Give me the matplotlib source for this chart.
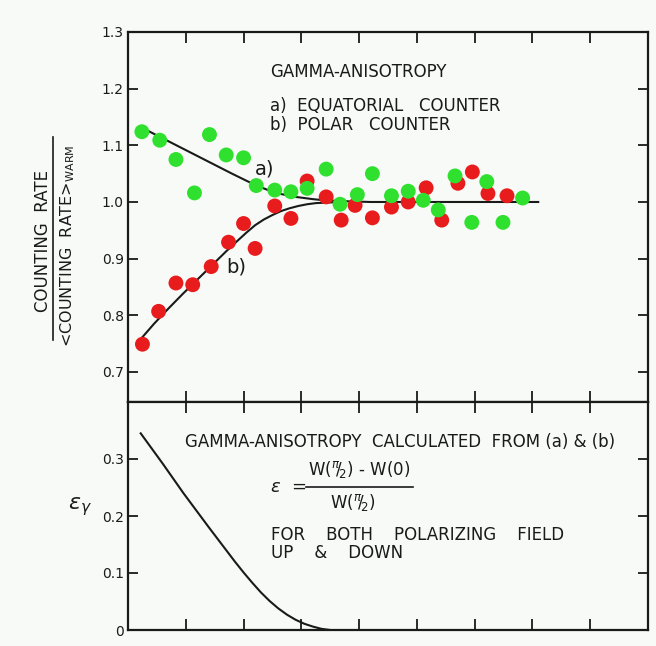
import numpy as np
import matplotlib
matplotlib.use("Agg")
import matplotlib.pyplot as plt
from matplotlib.lines import Line2D

# measured points (x in arbitrary tick units, y counting-rate ratio)
green_x = [0.24, 0.55, 0.83, 1.15, 1.41, 1.70, 2.00, 2.22, 2.54, 2.82, 3.10, 3.43,
           3.67, 3.97, 4.23, 4.56, 4.85, 5.11, 5.37, 5.66, 5.95, 6.21, 6.49, 6.83]
green_y = [1.124, 1.109, 1.075, 1.016, 1.119, 1.083, 1.078, 1.029, 1.021, 1.018, 1.024, 1.058,
           0.996, 1.013, 1.050, 1.011, 1.019, 1.003, 0.986, 1.046, 0.964, 1.036, 0.964, 1.007]

red_x = [0.25, 0.53, 0.83, 1.12, 1.44, 1.74, 2.00, 2.20, 2.54, 2.82, 3.10, 3.43,
         3.69, 3.93, 4.23, 4.56, 4.85, 5.16, 5.43, 5.71, 5.96, 6.23, 6.56]
red_y = [0.749, 0.807, 0.857, 0.854, 0.886, 0.929, 0.962, 0.918, 0.993, 0.971, 1.037, 1.009,
         0.968, 0.994, 0.972, 0.991, 1.000, 1.025, 0.968, 1.033, 1.053, 1.015, 1.011]

# fitted curves
curve_a_x = [0.30, 0.80, 1.30, 1.80, 2.10, 2.30, 2.45, 2.60, 2.75, 2.90, 3.05, 3.20,
             3.40, 3.60, 3.85, 4.20, 5.00, 6.00, 7.10]
curve_a_y = [1.128, 1.102, 1.076, 1.050, 1.035, 1.026, 1.020, 1.015, 1.012, 1.009, 1.007, 1.005,
             1.003, 1.002, 1.001, 1.000, 1.000, 1.000, 1.000]

curve_b_x = [0.22, 0.45, 0.70, 0.95, 1.20, 1.45, 1.70, 1.90, 2.05, 2.20, 2.35, 2.50,
             2.65, 2.80, 2.95, 3.10, 3.25, 3.45, 3.70]
curve_b_y = [0.758, 0.785, 0.812, 0.838, 0.863, 0.888, 0.913, 0.932, 0.946, 0.959, 0.969, 0.977,
             0.984, 0.989, 0.993, 0.996, 0.998, 0.999, 1.000]

eps_x = [0.22, 0.60, 0.96, 1.40, 1.70, 1.85, 2.00, 2.15, 2.30, 2.45, 2.60, 2.75,
         2.90, 3.05, 3.20, 3.35, 3.50]
eps_y = [0.345, 0.292, 0.240, 0.180, 0.140, 0.120, 0.101, 0.083, 0.066, 0.051, 0.038, 0.027,
         0.018, 0.011, 0.006, 0.002, 0.000]

top_yticks = [0.7, 0.8, 0.9, 1.0, 1.1, 1.2, 1.3]
top_ylabels = ["0.7", "0.8", "0.9", "1.0", "1.1", "1.2", "1.3"]
bot_yticks = [0.0, 0.1, 0.2, 0.3]
bot_ylabels = ["0", "0.1", "0.2", "0.3"]
xticks = [1, 2, 3, 4, 5, 6, 7, 8]

bg = "#f8faf8"
red = "#e81c1c"
green = "#2fe02f"
ink = "#1a1a1a"

fig = plt.figure(figsize=(6.56, 6.46), dpi=100, facecolor=bg)
left, right = 128 / 656, 648 / 656
ax1 = fig.add_axes([left, 1 - 402 / 646, right - left, (402 - 32) / 646], facecolor=bg)
ax2 = fig.add_axes([left, 1 - 630 / 646, right - left, (630 - 402) / 646], facecolor=bg)

for ax in (ax1, ax2):
    ax.set_xlim(0, 9)
    ax.set_xticks(xticks)
    ax.tick_params(axis="x", direction="in", length=8, width=1.3, top=True, bottom=True,
                   labelbottom=False, color=ink)
    ax.tick_params(axis="y", direction="in", length=7, width=1.3, left=True, right=True,
                   labelsize=10, pad=3, color=ink, labelcolor=ink)
    for s in ax.spines.values():
        s.set_linewidth(1.6)
        s.set_color(ink)

# top panel
ax1.set_ylim(0.647, 1.3)
ax1.set_yticks(top_yticks)
ax1.set_yticklabels(top_ylabels)
ax1.plot(curve_a_x, curve_a_y, color=ink, lw=1.5, zorder=2)
ax1.plot(curve_b_x, curve_b_y, color=ink, lw=1.5, zorder=2)
ax1.scatter(red_x, red_y, s=115, color=red, edgecolors="none", zorder=3)
ax1.scatter(green_x, green_y, s=115, color=green, edgecolors="none", zorder=4)

tk = dict(fontsize=12, color=ink, va="center", ha="left")
ax1.text(2.46, 1.230, "GAMMA-ANISOTROPY", **tk)
ax1.text(2.46, 1.170, "a)  EQUATORIAL   COUNTER", **tk)
ax1.text(2.46, 1.135, "b)  POLAR   COUNTER", **tk)
ax1.text(2.20, 1.059, "a)", fontsize=14, color=ink, va="center", ha="left")
ax1.text(1.70, 0.886, "b)", fontsize=14, color=ink, va="center", ha="left")

# bottom panel
ax2.set_ylim(0, 0.4)
ax2.set_yticks(bot_yticks)
ax2.set_yticklabels(bot_ylabels)
ax2.plot(eps_x, eps_y, color=ink, lw=1.5)

ax2.text(0.99, 0.330, "GAMMA-ANISOTROPY  CALCULATED  FROM (a) & (b)", **tk)
ax2.text(2.46, 0.251, r"$\epsilon$  =", fontsize=13, color=ink, va="center", ha="left")
ax2.text(4.01, 0.281, r"W($^{\pi}\!/\!_{2}$) - W(0)", fontsize=12, color=ink, va="center", ha="center")
ax2.plot([3.08, 4.93], [0.251, 0.251], color=ink, lw=1.2)
ax2.text(3.89, 0.224, r"W($^{\pi}\!/\!_{2}$)", fontsize=12, color=ink, va="center", ha="center")
ax2.text(2.47, 0.167, "FOR    BOTH    POLARIZING    FIELD", **tk)
ax2.text(2.47, 0.135, "UP    &    DOWN", **tk)

# y labels
fig.text(43 / 656, 1 - 241 / 646, "COUNTING  RATE", rotation=90, fontsize=12,
         color=ink, ha="center", va="center")
fig.text(68 / 656, 1 - 246 / 646, r"<COUNTING  RATE>$_{\mathrm{WARM}}$", rotation=90,
         fontsize=11.5, color=ink, ha="center", va="center")
fig.add_artist(Line2D([53 / 656, 53 / 656], [1 - 137 / 646, 1 - 340 / 646],
                      transform=fig.transFigure, color=ink, lw=1.2))
fig.text(80 / 656, 1 - 507 / 646, r"$\epsilon_\gamma$", fontsize=16, color=ink,
         ha="center", va="center")

fig.savefig("out.png", dpi=100, facecolor=bg)
